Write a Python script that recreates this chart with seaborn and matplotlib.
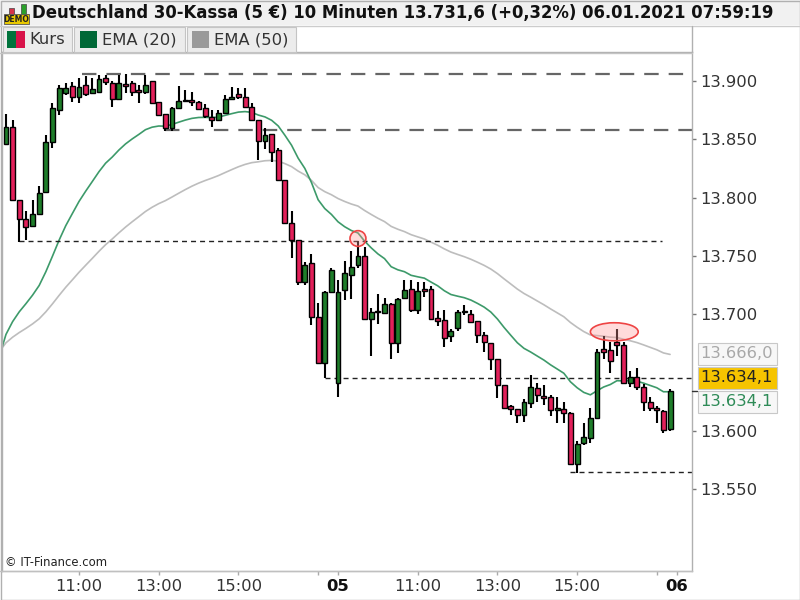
import numpy as np
import pandas as pd
import matplotlib
matplotlib.use("Agg")
import matplotlib.pyplot as plt
import seaborn as sns
from matplotlib.patches import Rectangle, Ellipse

# ---------------- data ----------------
opens = [13846, 13861, 13798, 13782, 13776, 13786, 13805, 13848, 13875, 13890,
         13896, 13886, 13897, 13890, 13891, 13903, 13898, 13885, 13897, 13898,
         13892, 13891, 13900, 13882, 13872, 13860, 13877, 13883, 13884, 13882,
         13877, 13869, 13867, 13873, 13885, 13889, 13886, 13878, 13867, 13849,
         13855, 13841, 13815, 13778, 13764, 13728, 13744, 13698, 13658, 13719,
         13641, 13721, 13734, 13742, 13750, 13696, 13702, 13701, 13709, 13675,
         13714, 13722, 13704, 13722, 13722, 13697, 13695, 13681, 13688, 13702,
         13700, 13694, 13682, 13675, 13662, 13639, 13621, 13619, 13614, 13624,
         13637, 13630, 13629, 13618, 13619, 13615, 13572, 13590, 13594, 13611,
         13670, 13669, 13676, 13674, 13641, 13646, 13638, 13625, 13620, 13617,
         13602]
highs = [13872, 13867, 13798, 13789, 13798, 13810, 13854, 13881, 13897, 13898,
         13899, 13903, 13904, 13903, 13905, 13905, 13900, 13905, 13906, 13900,
         13897, 13905, 13900, 13882, 13872, 13878, 13896, 13892, 13891, 13883,
         13880, 13875, 13875, 13888, 13895, 13894, 13894, 13881, 13867, 13860,
         13855, 13843, 13815, 13789, 13764, 13745, 13752, 13710, 13720, 13740,
         13729, 13746, 13754, 13763, 13758, 13705, 13717, 13714, 13710, 13714,
         13729, 13729, 13728, 13728, 13724, 13703, 13704, 13687, 13704, 13708,
         13704, 13694, 13685, 13675, 13662, 13639, 13622, 13619, 13627, 13648,
         13641, 13639, 13631, 13629, 13625, 13616, 13591, 13607, 13620, 13670,
         13681, 13676, 13687, 13676, 13651, 13654, 13640, 13629, 13621, 13618,
         13636]
lows = [13846, 13798, 13762, 13764, 13776, 13786, 13805, 13843, 13871, 13888,
        13882, 13881, 13887, 13889, 13891, 13897, 13878, 13885, 13890, 13887,
        13881, 13889, 13881, 13870, 13857, 13857, 13877, 13882, 13879, 13875,
        13868, 13861, 13866, 13873, 13884, 13885, 13878, 13867, 13832, 13842,
        13831, 13815, 13778, 13748, 13725, 13725, 13691, 13658, 13645, 13718,
        13629, 13712, 13713, 13740, 13696, 13664, 13692, 13701, 13662, 13667,
        13713, 13702, 13700, 13715, 13696, 13690, 13672, 13676, 13686, 13699,
        13693, 13675, 13668, 13652, 13628, 13620, 13614, 13607, 13608, 13620,
        13625, 13622, 13613, 13607, 13607, 13572, 13564, 13588, 13590, 13611,
        13662, 13650, 13664, 13641, 13638, 13635, 13617, 13617, 13607, 13598,
        13600]
closes = [13861, 13798, 13782, 13775, 13786, 13804, 13848, 13877, 13894, 13894,
          13886, 13895, 13889, 13893, 13902, 13899, 13885, 13898, 13896, 13891,
          13891, 13897, 13881, 13871, 13860, 13877, 13883, 13884, 13882, 13876,
          13870, 13867, 13873, 13885, 13886, 13886, 13878, 13867, 13849, 13854,
          13839, 13815, 13778, 13764, 13728, 13742, 13698, 13658, 13719, 13738,
          13719, 13735, 13741, 13750, 13696, 13702, 13703, 13709, 13675, 13713,
          13721, 13704, 13720, 13720, 13696, 13694, 13680, 13686, 13702, 13702,
          13693, 13682, 13676, 13662, 13639, 13620, 13619, 13614, 13625, 13638,
          13631, 13628, 13618, 13619, 13615, 13572, 13589, 13595, 13611, 13668,
          13668, 13660, 13674, 13641, 13646, 13638, 13625, 13620, 13618, 13601,
          13634.1]

ema20_start = 13664.0   # EMA values just left of the chart
ema50_start = 13668.0

ytick_values = [13550, 13600, 13700, 13750, 13800, 13850, 13900]
xtick_pos = [11, 23, 35, 47, 50, 62, 74, 86, 98, 101]
xtick_labels = ["11:00", "13:00", "15:00", "", "05", "11:00", "13:00", "15:00", "", "06"]

level_values = [13906, 13858, 13763, 13645, 13565]
level_from = [11.5, 24, 2, 48, 85]
level_to = [103.3, 103.3, 98.8, 103.3, 103.3]
level_kind = ["long", "long", "short", "short", "short"]

mark_idx = [53, 91.6]
mark_val = [13765, 13685]

title_text = "Deutschland 30-Kassa (5 €) 10 Minuten 13.731,6 (+0,32%) 06.01.2021 07:59:19"
legend_names = ["Kurs", "EMA (20)", "EMA (50)"]
value_labels = ["13.666,0", "13.634,1", "13.634,1"]

# ---------------- style ----------------
sns.set_style("white")
plt.rcParams["font.family"] = ["DejaVu Sans"]

W, H = 800, 600
fig = plt.figure(figsize=(8, 6), dpi=100)
fig.patch.set_facecolor("white")


def prect(x0, y0, x1, y1, **kw):
    fig.patches.append(Rectangle((x0 / W, 1 - y1 / H), (x1 - x0) / W, (y1 - y0) / H,
                                 transform=fig.transFigure, **kw))


def ptext(x, y, s, **kw):
    fig.text(x / W, 1 - y / H, s, **kw)


def pline(xa, ya, xb, yb, **kw):
    fig.lines.append(plt.Line2D([xa / W, xb / W], [1 - ya / H, 1 - yb / H],
                                transform=fig.transFigure, **kw))


FS = 11.8

# title bar
prect(0, 0, 800, 25, facecolor="#f1f1f1", edgecolor="none")
pline(0, 25.5, 800, 25.5, color="#cccccc", lw=1)
# DEMO icon
prect(9, 8, 14, 15, facecolor="#d6334a", edgecolor="#444", lw=0.5)
prect(21, 4, 26, 15, facecolor="#2aa02a", edgecolor="#444", lw=0.5)
prect(4, 14, 29, 24, facecolor="#e8c800", edgecolor="#555", lw=0.6)
ptext(16.5, 19.5, "DEMO", fontsize=5.5, fontweight="bold", color="#222", ha="center", va="center")
ptext(32, 13, title_text, fontsize=11.9, fontweight="bold", color="#111", va="center")

# legend row
leg_boxes = [(3, 72), (74, 185), (187, 296)]
for (bx0, bx1), name in zip(leg_boxes, legend_names):
    prect(bx0, 27, bx1, 52, facecolor="#ececec", edgecolor="#c4c4c4", lw=0.8)
prect(7, 31, 16, 48, facecolor="#00733c", edgecolor="none")
prect(16, 31, 25, 48, facecolor="#d8134a", edgecolor="none")
prect(80, 31, 97, 48, facecolor="#006837", edgecolor="none")
prect(192, 31, 209, 48, facecolor="#9a9a9a", edgecolor="none")
for xx, name in zip([29, 102, 214], legend_names):
    ptext(xx, 40, name, fontsize=FS, color="#333", va="center")

# ---------------- main axes ----------------
x0, x1, y0, y1 = 2, 692, 52, 571
ax = fig.add_axes([x0 / W, 1 - y1 / H, (x1 - x0) / W, (y1 - y0) / H])
ax.set_facecolor("white")

idx = np.arange(len(closes))
df = pd.DataFrame({"i": idx, "open": opens, "high": highs, "low": lows, "close": closes})

# EMA lines (computed from the closes, seeded with the value read at the left edge)
ext20 = pd.Series([ema20_start] + closes).ewm(span=20, adjust=False).mean()
ext50 = pd.Series([ema50_start] + closes).ewm(span=50, adjust=False).mean()
ema_df = pd.DataFrame({"i": np.arange(-1, len(closes)), "ema20": ext20.values, "ema50": ext50.values})
sns.lineplot(data=ema_df, x="i", y="ema50", ax=ax, color="#bdbdbd", lw=1.2, zorder=1)
sns.lineplot(data=ema_df, x="i", y="ema20", ax=ax, color="#3d9a6a", lw=1.2, zorder=1)

# level lines
for v, a, b, k in zip(level_values, level_from, level_to, level_kind):
    if k == "long":
        ax.hlines(v, a, b, colors="#666666", lw=1.6, linestyles=(0, (6.5, 4.5)), zorder=1.5)
    else:
        ax.hlines(v, a, b, colors="#222222", lw=1.0, linestyles=(0, (3.6, 2.9)), zorder=1.5)

# candles
up = df["close"] >= df["open"]
colors = np.where(up, "#1e7d2a", "#e2205a")
ax.vlines(df["i"], df["low"], df["high"], colors="black", lw=1.5, zorder=2)
body_bottom = np.minimum(df["open"], df["close"])
body_h = np.maximum(np.abs(df["close"] - df["open"]), 1.2)
ax.bar(df["i"], body_h, bottom=body_bottom, width=0.74, color=colors,
       edgecolor="black", linewidth=1.0, zorder=3)

# highlight marks
ax.add_patch(Ellipse((mark_idx[0], mark_val[0]), 2.4, 13.5, facecolor=(1, 0.6, 0.6, 0.35),
                     edgecolor="#ee4444", lw=1.2, zorder=4))
ax.add_patch(Ellipse((mark_idx[1], mark_val[1]), 7.2, 15.5, facecolor=(1, 0.6, 0.6, 0.35),
                     edgecolor="#ee4444", lw=1.2, zorder=4))

ax.set_xlim(-0.6, 103.3)
ax.set_ylim(13479.8, 13925.0)
ax.set_xlabel("")
ax.set_ylabel("")

ax.yaxis.tick_right()
ax.set_yticks(ytick_values)
ax.set_yticklabels([f"{v:,}".replace(",", ".") for v in ytick_values])
ax.tick_params(axis="y", which="both", right=True, left=False, direction="out", length=3,
               width=1, color="#777", pad=3, labelsize=FS, labelcolor="#333")
ax.set_xticks(xtick_pos)
ax.set_xticklabels(xtick_labels)
ax.tick_params(axis="x", which="both", bottom=True, direction="out", length=3, width=1,
               color="#aaa", pad=3, labelsize=FS, labelcolor="#333")
for lab in ax.get_xticklabels():
    if lab.get_text() in ("05", "06"):
        lab.set_fontweight("bold")
        lab.set_color("#111")
for s in ax.spines.values():
    s.set_color("#b0b0b0")
    s.set_linewidth(1)
ax.spines["bottom"].set_color("#c0c0c0")
ax.grid(False)

# last-value boxes on the right axis
box_y = [354, 378, 402]
box_fc = ["#f7f7f7", "#f6c400", "#f7f7f7"]
box_tc = ["#a8a8a8", "#222222", "#2e8b57"]
for yy, fc, tc, s in zip(box_y, box_fc, box_tc, value_labels):
    prect(698, yy - 11, 777, yy + 11, facecolor=fc, edgecolor="#c8c8c8", lw=0.8)
    ptext(700.5, yy, s, fontsize=FS, color=tc, va="center")
# price marker tick
pline(692, 391, 697, 391, color="#333", lw=1)

# frame lines
pline(0, 571, 692, 571, color="#c0c0c0", lw=1)
pline(692, 26, 692, 52, color="#b0b0b0", lw=1)
pline(0, 52.5, 692, 52.5, color="#c4c4c4", lw=1)
ptext(5, 563, "© IT-Finance.com", fontsize=8.4, color="#222", va="center")

# outer frame
prect(0.5, 0.5, 799.5, 599.5, facecolor="none", edgecolor="#b0b0b0", lw=1)

fig.savefig("out.png", dpi=100)
